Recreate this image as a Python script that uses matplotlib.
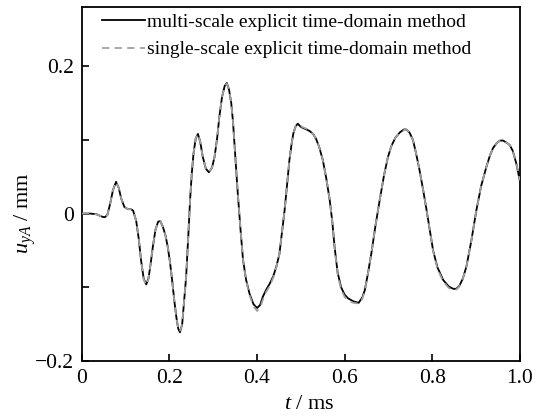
import matplotlib
matplotlib.use('Agg')
from matplotlib import pyplot as plt

plt.rcParams['font.family'] = 'Liberation Serif'
plt.rcParams['mathtext.fontset'] = 'custom'
plt.rcParams['mathtext.rm'] = 'Liberation Serif'
plt.rcParams['mathtext.it'] = 'Liberation Serif:italic'

# time (ms)
t = [0.000, 0.020, 0.034, 0.045, 0.052, 0.058, 0.064, 0.071, 0.078, 0.084,
     0.090, 0.097, 0.105, 0.112, 0.117, 0.124, 0.130, 0.135, 0.141, 0.147,
     0.152, 0.157, 0.162, 0.168, 0.174, 0.179, 0.185, 0.191, 0.196, 0.201,
     0.206, 0.211, 0.216, 0.220, 0.224, 0.229, 0.234, 0.238, 0.243, 0.247,
     0.251, 0.255, 0.260, 0.265, 0.270, 0.276, 0.283, 0.290, 0.297, 0.303,
     0.309, 0.314, 0.320, 0.326, 0.331, 0.336, 0.341, 0.345, 0.350, 0.356,
     0.362, 0.368, 0.375, 0.383, 0.392, 0.400, 0.407, 0.413, 0.421, 0.429,
     0.437, 0.444, 0.451, 0.457, 0.463, 0.469, 0.474, 0.479, 0.483, 0.488,
     0.493, 0.499, 0.505, 0.513, 0.520, 0.528, 0.535, 0.542, 0.550, 0.558,
     0.566, 0.572, 0.577, 0.584, 0.592, 0.600, 0.608, 0.620, 0.632, 0.640,
     0.646, 0.653, 0.661, 0.670, 0.680, 0.690, 0.699, 0.707, 0.716, 0.726,
     0.735, 0.741, 0.748, 0.756, 0.763, 0.771, 0.779, 0.787, 0.795, 0.802,
     0.812, 0.825, 0.838, 0.848, 0.855, 0.862, 0.870, 0.878, 0.889, 0.901,
     0.912, 0.924, 0.932, 0.939, 0.948, 0.955, 0.962, 0.970, 0.977, 0.984,
     0.992, 1.000]

# multi-scale explicit time-domain method (mm)
u_multi = [0.000, 0.000, -0.001, -0.004, -0.005, -0.002, 0.012, 0.032, 0.043, 0.035,
           0.020, 0.009, 0.006, 0.006, 0.004, -0.010, -0.035, -0.063, -0.088, -0.096,
           -0.088, -0.068, -0.045, -0.022, -0.011, -0.010, -0.018, -0.030, -0.045, -0.065,
           -0.090, -0.118, -0.142, -0.156, -0.161, -0.150, -0.115, -0.086, -0.030, 0.018,
           0.055, 0.082, 0.102, 0.108, 0.098, 0.077, 0.061, 0.056, 0.062, 0.077,
           0.103, 0.132, 0.158, 0.173, 0.177, 0.168, 0.150, 0.125, 0.080, 0.027,
           -0.020, -0.063, -0.090, -0.109, -0.123, -0.128, -0.124, -0.113, -0.103, -0.095,
           -0.085, -0.072, -0.055, -0.025, 0.005, 0.042, 0.073, 0.095, 0.109, 0.118,
           0.122, 0.118, 0.116, 0.114, 0.112, 0.108, 0.101, 0.090, 0.073, 0.048,
           0.018, -0.012, -0.045, -0.080, -0.100, -0.110, -0.115, -0.119, -0.121, -0.114,
           -0.104, -0.082, -0.054, -0.018, 0.018, 0.052, 0.077, 0.092, 0.103, 0.110,
           0.114, 0.114, 0.110, 0.100, 0.082, 0.059, 0.033, 0.005, -0.024, -0.050,
           -0.073, -0.090, -0.099, -0.102, -0.102, -0.098, -0.088, -0.072, -0.038, 0.005,
           0.038, 0.064, 0.079, 0.089, 0.096, 0.099, 0.099, 0.096, 0.093, 0.085,
           0.068, 0.045]

# single-scale explicit time-domain method (mm), nearly on top of the other one
u_single = [0.000, 0.000, -0.001, -0.004, -0.005, -0.002, 0.012, 0.032, 0.043, 0.035,
            0.020, 0.009, 0.006, 0.006, 0.004, -0.010, -0.035, -0.063, -0.089, -0.097,
            -0.089, -0.068, -0.045, -0.022, -0.011, -0.010, -0.018, -0.030, -0.045, -0.065,
            -0.090, -0.118, -0.142, -0.156, -0.160, -0.150, -0.115, -0.086, -0.030, 0.018,
            0.055, 0.082, 0.102, 0.108, 0.098, 0.077, 0.061, 0.056, 0.062, 0.077,
            0.103, 0.132, 0.158, 0.173, 0.176, 0.168, 0.150, 0.125, 0.080, 0.027,
            -0.020, -0.063, -0.091, -0.111, -0.126, -0.132, -0.128, -0.117, -0.106, -0.098,
            -0.087, -0.073, -0.055, -0.025, 0.005, 0.042, 0.073, 0.095, 0.109, 0.118,
            0.121, 0.119, 0.117, 0.115, 0.112, 0.108, 0.101, 0.090, 0.073, 0.048,
            0.018, -0.012, -0.046, -0.082, -0.103, -0.113, -0.118, -0.121, -0.122, -0.116,
            -0.105, -0.082, -0.054, -0.018, 0.018, 0.052, 0.077, 0.092, 0.103, 0.110,
            0.113, 0.114, 0.110, 0.100, 0.082, 0.059, 0.033, 0.005, -0.024, -0.051,
            -0.075, -0.092, -0.101, -0.103, -0.103, -0.099, -0.088, -0.072, -0.038, 0.005,
            0.038, 0.064, 0.079, 0.089, 0.096, 0.099, 0.099, 0.096, 0.093, 0.085,
            0.068, 0.045]

xticks = [0, 0.2, 0.4, 0.6, 0.8, 1.0]
xlabels = ['0', '0.2', '0.4', '0.6', '0.8', '1.0']
yticks = [-0.2, 0, 0.2]
ylabels = ['\u22120.2', '0', '0.2']
yminor = [-0.1, 0.1]

fig = plt.figure(figsize=(5.46, 4.16), dpi=100)
ax = fig.add_axes([0.150, 0.132, 0.802, 0.851])

ax.plot(t, u_multi, color='black', lw=1.3, label='multi-scale explicit time-domain method', zorder=2)
ax.plot(t, u_single, color='#a0a0a0', lw=1.3, ls=(0, (4, 3)),
        label='single-scale explicit time-domain method', zorder=3)

ax.set_xlim(0, 1.0)
ax.set_ylim(-0.2, 0.28)
ax.set_xticks(xticks, xlabels)
ax.set_yticks(yticks, ylabels)
ax.set_yticks(yminor, minor=True)
ax.tick_params(direction='in', length=5, width=1.2, labelsize=15.5, pad=6)
ax.tick_params(which='minor', direction='in', length=5, width=1.2)
for s in ax.spines.values():
    s.set_linewidth(1.3)

ax.set_xlabel('$t$ / ms', fontsize=16)
ax.set_ylabel('$u_{yA}$ / mm', fontsize=16)
ax.xaxis.set_label_coords(0.52, -0.095)
ax.yaxis.set_label_coords(-0.10, 0.417)

ax.legend(loc='upper left', bbox_to_anchor=(0.02, 1.015), frameon=False, fontsize=14,
          handlelength=2.2, handletextpad=0.1, labelspacing=0.5, borderaxespad=0.2)

plt.savefig('out.png')
